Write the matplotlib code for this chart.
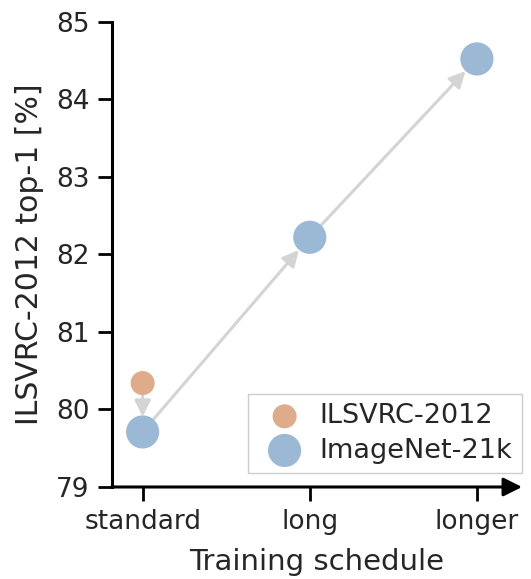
import matplotlib.pyplot as plt

schedules = ["standard", "long", "longer"]
ilsvrc_top1 = [80.34]
in21k_top1 = [79.71, 82.22, 84.52]

blue = "#9bb8d5"
orange = "#dfac8b"
gray_arrow = "#d4d4d4"
text_col = "#262626"

plt.rcParams["font.family"] = "DejaVu Sans"

fig = plt.figure(figsize=(5.31, 5.79), dpi=100)
ax = fig.add_axes([0.2104, 0.1589, 0.9831 - 0.2104, 0.9625 - 0.1589])

x = list(range(len(schedules)))

# arrows between runs
def arrow(x0, y0, x1, y1, sa, sb):
    ax.annotate("", xy=(x1, y1), xytext=(x0, y0),
                arrowprops=dict(arrowstyle="-|>", color=gray_arrow, lw=2.2,
                                mutation_scale=24, shrinkA=sa, shrinkB=sb),
                zorder=1)

arrow(0, ilsvrc_top1[0], 0, in21k_top1[0], 8, 11)
for i in range(len(x) - 1):
    arrow(x[i], in21k_top1[i], x[i + 1], in21k_top1[i + 1], 11, 12)

ax.scatter([0], ilsvrc_top1, s=300, color=orange, zorder=3, label="ILSVRC-2012",
           edgecolors="none")
ax.scatter(x, in21k_top1, s=570, color=blue, zorder=3, label="ImageNet-21k",
           edgecolors="none")

ax.set_xlim(-0.185, 2.27)
ax.set_ylim(79, 85)
ax.set_xticks(x)
ax.set_xticklabels(schedules)
ax.set_yticks(range(79, 86))

for s in ["top", "right", "bottom"]:
    ax.spines[s].set_visible(False)
ax.spines["left"].set_linewidth(2.2)
ax.spines["left"].set_color("black")
ax.annotate("", xy=(1.0, 0), xytext=(0, 0), xycoords="axes fraction",
            arrowprops=dict(arrowstyle="-|>", color="black", lw=2.2,
                            mutation_scale=28, shrinkA=0, shrinkB=0),
            annotation_clip=False)

ax.tick_params(axis="both", length=10, width=2, color="black",
               labelsize=19, labelcolor=text_col, pad=6)
ax.set_xlabel("Training schedule", fontsize=21, color=text_col, labelpad=9)
ax.set_ylabel("ILSVRC-2012 top-1 [%]", fontsize=21.5, color=text_col, labelpad=9)

leg = ax.legend(loc="lower right", fontsize=19.5, fancybox=False, framealpha=1,
                edgecolor="#cccccc", borderpad=0.35, handletextpad=0.3,
                labelspacing=0.3, borderaxespad=0, bbox_to_anchor=(1.0, 0.03))
for t in leg.get_texts():
    t.set_color(text_col)

fig.savefig("out.png", dpi=100)
